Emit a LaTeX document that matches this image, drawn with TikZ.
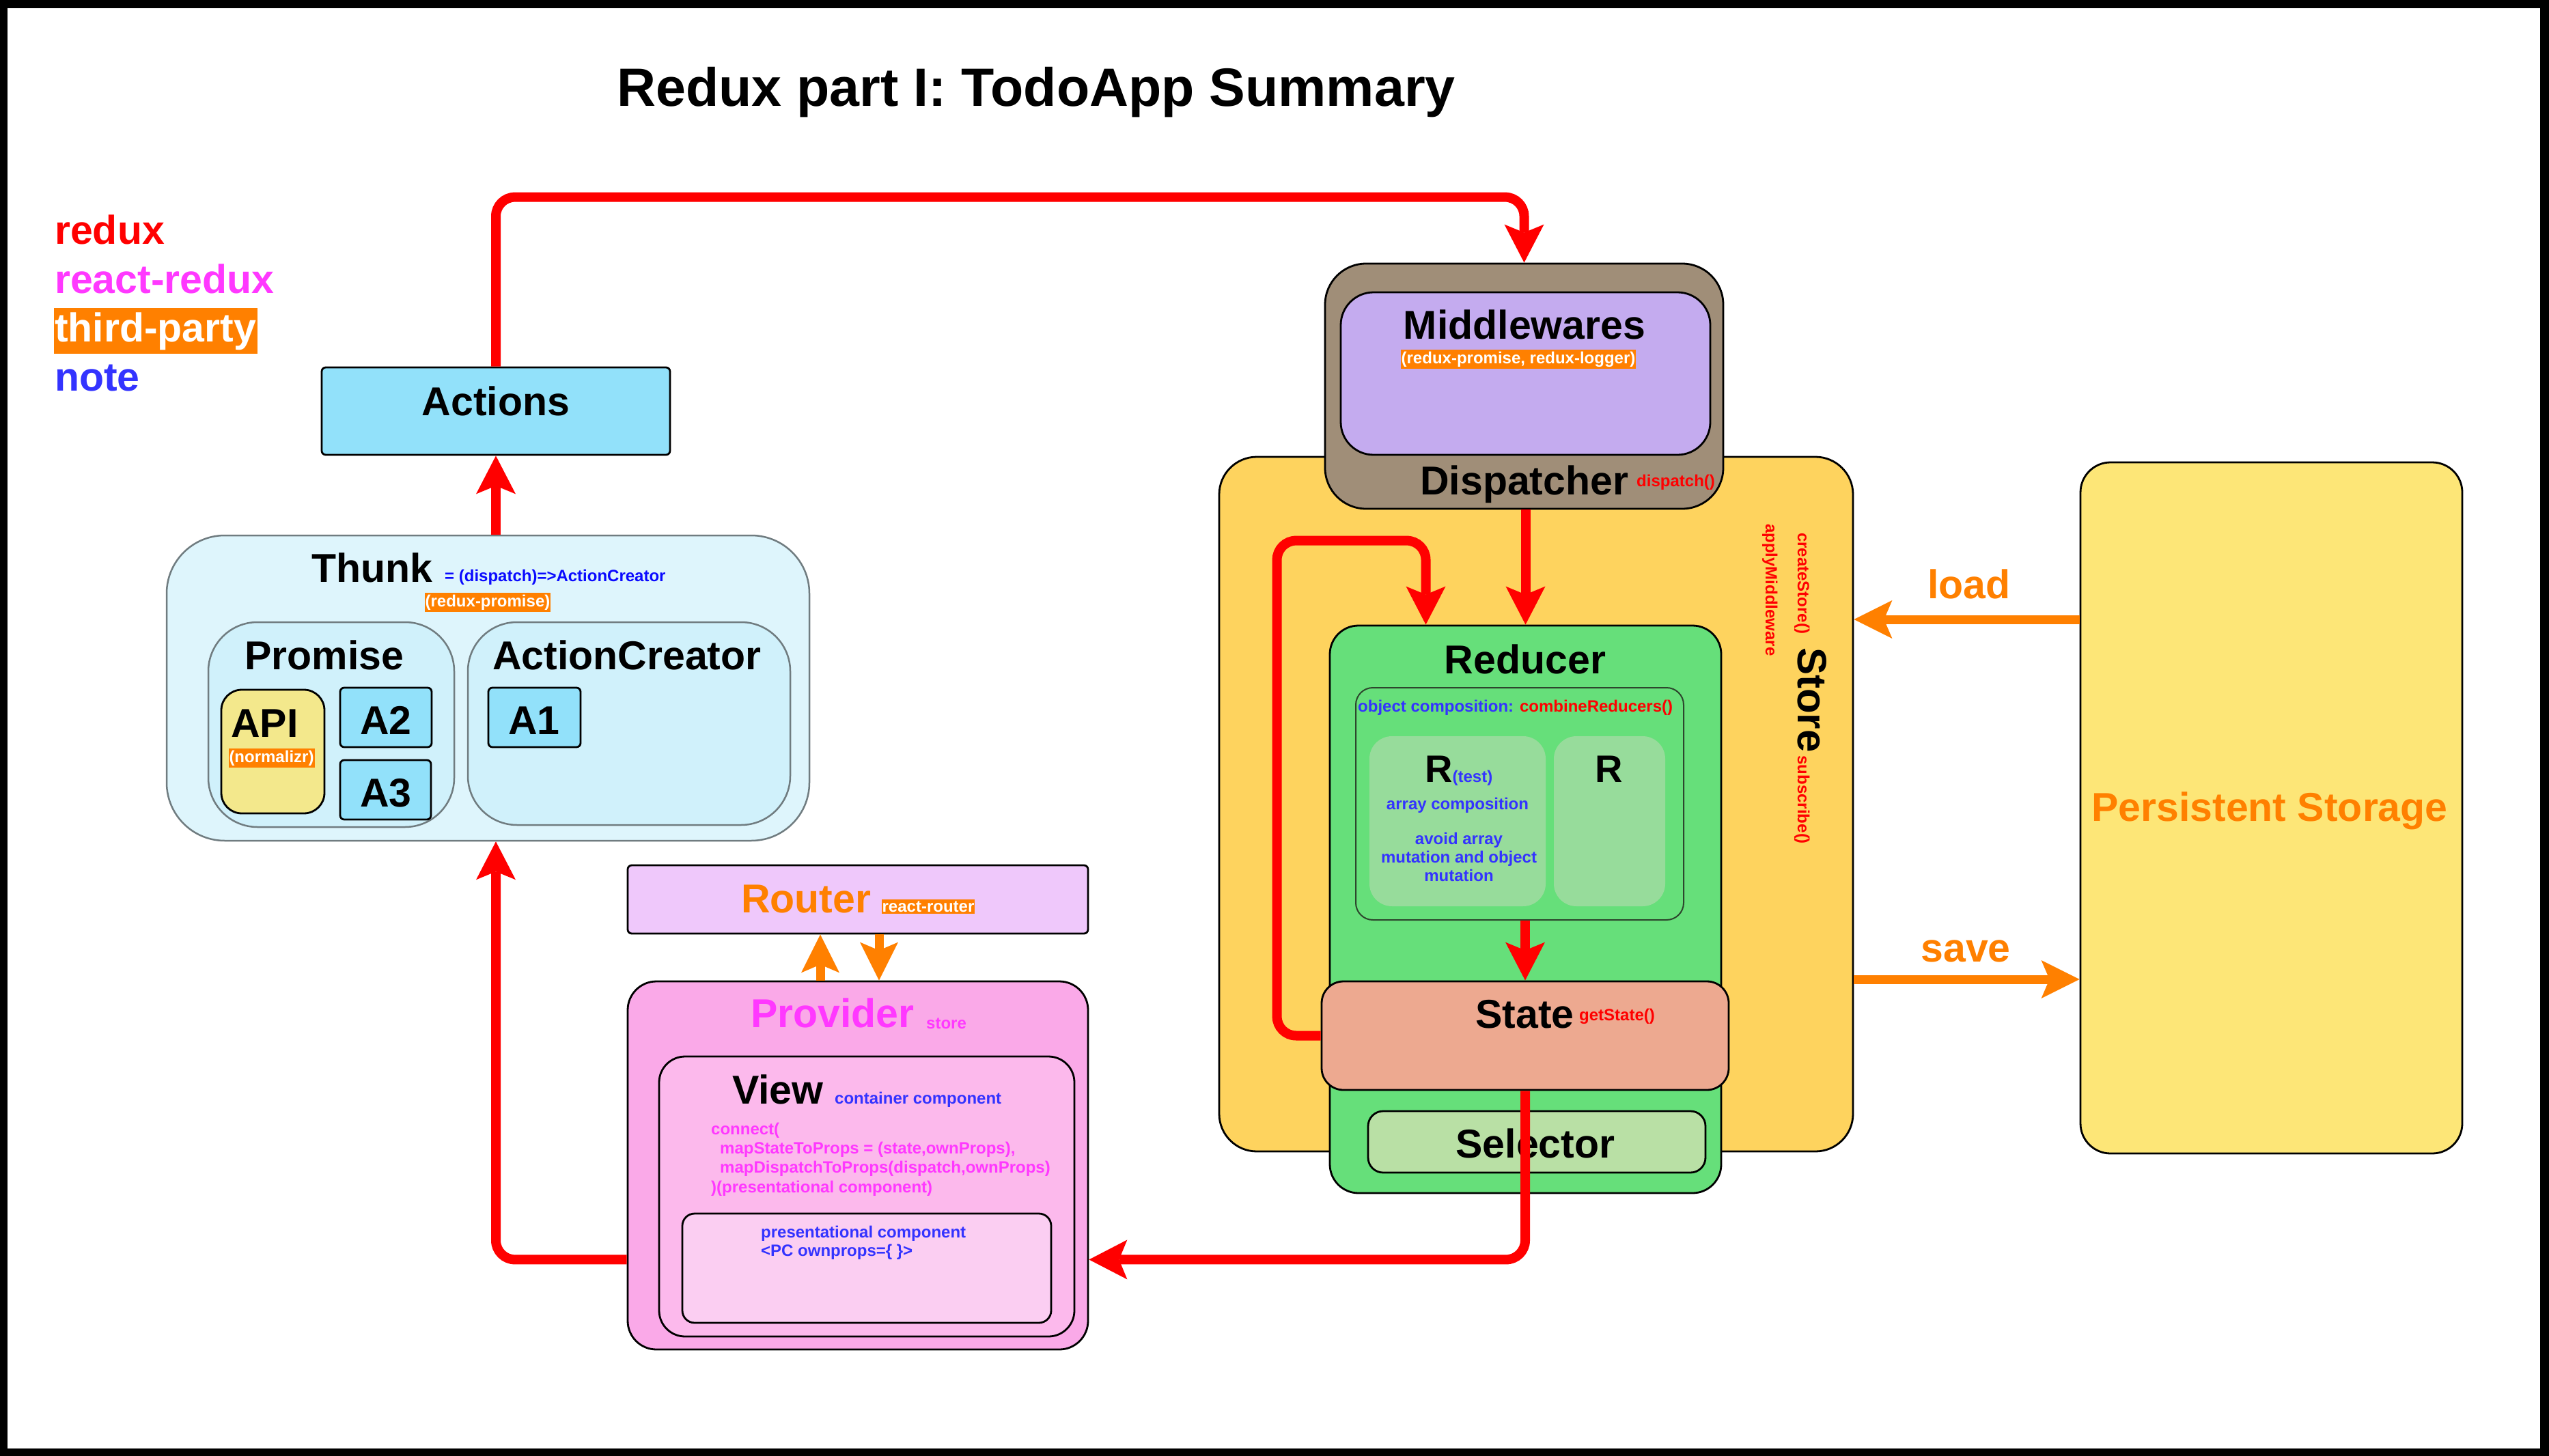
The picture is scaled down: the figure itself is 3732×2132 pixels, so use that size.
\documentclass[tikz,border=0pt]{standalone}
\usepackage{fontspec}
\setmainfont{Liberation Sans}
\usetikzlibrary{arrows.meta,calc}

\definecolor{cRed}{RGB}{255,0,0}
\definecolor{cMag}{RGB}{255,56,255}
\definecolor{cOr}{RGB}{255,128,0}
\definecolor{cNote}{RGB}{51,51,255}
\definecolor{cFormula}{RGB}{10,10,255}
\definecolor{cGrey}{RGB}{112,124,128}
\definecolor{actC}{RGB}{146,225,250}
\definecolor{thunkC}{RGB}{222,245,252}
\definecolor{promC}{RGB}{208,241,251}
\definecolor{apiC}{RGB}{243,232,140}
\definecolor{storeC}{RGB}{254,211,94}
\definecolor{dispC}{RGB}{160,142,120}
\definecolor{mwC}{RGB}{196,171,239}
\definecolor{redcC}{RGB}{102,223,122}
\definecolor{rC}{RGB}{151,220,155}
\definecolor{objLine}{RGB}{45,70,45}
\definecolor{stateC}{RGB}{237,169,144}
\definecolor{selC}{RGB}{185,224,165}
\definecolor{psC}{RGB}{253,230,119}
\definecolor{routC}{RGB}{239,200,251}
\definecolor{provC}{RGB}{250,169,232}
\definecolor{viewC}{RGB}{252,185,236}
\definecolor{presC}{RGB}{251,206,242}

\newcommand{\fsz}[1]{\fontsize{#1}{#1}\selectfont}

\tikzset{
  blk/.style={draw=black, line width=2.8pt, inner sep=0pt},
  gry/.style={draw=cGrey, line width=2.5pt, inner sep=0pt},
  lbl/.style={inner sep=0pt, font=\bfseries\fsz{59}},
  sml/.style={inner sep=0pt, font=\bfseries\fsz{24}},
  tp/.style={fill=cOr, text=white, inner xsep=1pt, inner ysep=2.5pt, font=\bfseries\fsz{24}},
  redflow/.style={draw=cRed, line width=14pt, rounded corners=28pt,
    -{Stealth[length=56pt,width=58pt,inset=12pt,line width=0pt]}},
  orflow/.style={draw=cOr, line width=13pt,
    -{Stealth[length=56pt,width=56pt,inset=12pt,line width=0pt]}},
}

\begin{document}
\begin{tikzpicture}[x=1pt,y=-1pt]
\useasboundingbox (0,0) rectangle (3732,2132);
% page frame
\fill[black] (0,0) rectangle (3732,2132);
\fill[white] (11,12) rectangle (3719,2121);

% ---------- action side ----------
\node[gry, fill=thunkC, rounded corners=85pt, minimum width=941pt, minimum height=447pt] (thunk) at (714.5,1007.5) {};
\node[gry, fill=promC, rounded corners=72pt, minimum width=360pt, minimum height=300pt] (promise) at (485,1061) {};
\node[gry, fill=promC, rounded corners=72pt, minimum width=472pt, minimum height=297pt] (creator) at (921,1059.5) {};
\node[blk, fill=apiC, rounded corners=30pt, minimum width=151pt, minimum height=181pt] (api) at (399.5,1100.5) {};
\node[blk, fill=actC, rounded corners=6pt, minimum width=134pt, minimum height=87pt] (atwo) at (565,1050.5) {};
\node[blk, fill=actC, rounded corners=6pt, minimum width=133pt, minimum height=87pt] (athree) at (564.5,1156.5) {};
\node[blk, fill=actC, rounded corners=6pt, minimum width=135pt, minimum height=87pt] (aone) at (782.5,1050.5) {};
\node[blk, fill=actC, rounded corners=6pt, minimum width=510pt, minimum height=128pt] (actions) at (726,602) {};

% ---------- store side ----------
\node[blk, fill=storeC, rounded corners=55pt, minimum width=928pt, minimum height=1017pt] (store) at (2249,1177.5) {};
\node[blk, fill=dispC, rounded corners=60pt, minimum width=583pt, minimum height=359pt] (mwout) at (2231.5,565.5) {};
\node[blk, fill=mwC, rounded corners=48pt, minimum width=541pt, minimum height=238pt] (mwin) at (2233.5,547) {};
\node[blk, fill=redcC, rounded corners=42pt, minimum width=573pt, minimum height=831pt] (reducer) at (2233.5,1331.5) {};
\node[draw=objLine, line width=2pt, inner sep=0pt, fill=redcC, rounded corners=25pt, minimum width=480pt, minimum height=340pt] (objbox) at (2225,1177) {};
\node[fill=rC, inner sep=0pt, rounded corners=33pt, minimum width=258pt, minimum height=249pt] (rtest) at (2134,1202.5) {};
\node[fill=rC, inner sep=0pt, rounded corners=33pt, minimum width=163pt, minimum height=249pt] (rother) at (2356.5,1202.5) {};
\node[blk, fill=stateC, rounded corners=32pt, minimum width=596pt, minimum height=159pt] (state) at (2233,1516.5) {};
\node[blk, fill=selC, rounded corners=22pt, minimum width=494pt, minimum height=90pt] (selector) at (2250,1672) {};
\node[blk, fill=psC, rounded corners=44pt, minimum width=559pt, minimum height=1012pt] (pstore) at (3325.5,1183) {};

% ---------- view side ----------
\node[blk, fill=routC, rounded corners=6pt, minimum width=674pt, minimum height=100pt] (router) at (1256,1317) {};
\node[blk, fill=provC, rounded corners=42pt, minimum width=674pt, minimum height=539pt] (provider) at (1256,1706.5) {};
\node[blk, fill=viewC, rounded corners=38pt, minimum width=608pt, minimum height=410pt] (view) at (1269,1752) {};
\node[blk, fill=presC, rounded corners=18pt, minimum width=540pt, minimum height=160pt] (pres) at (1269,1857) {};

% ---------- texts ----------
\node[anchor=base, inner sep=0pt, font=\bfseries\fsz{79}] (title) at (1517,156) {Redux part I: TodoApp Summary};

\node[lbl, anchor=base west, text=cRed] (lgRedux) at (80,358) {redux};
\node[lbl, anchor=base west, text=cMag] (lgReactRedux) at (80,429) {react-redux};
\node[lbl, anchor=base west, fill=cOr, text=white, inner xsep=1.5pt, inner ysep=6pt] (lgThird) at (78.5,500) {third-party};
\node[lbl, anchor=base west, text=cNote] (lgNote) at (80,572) {note};

\node[lbl, anchor=base] (actionsT) at (726,608) {Actions};
\node[lbl, anchor=base west] (thunkT) at (456,852) {Thunk};
\node[sml, anchor=base west, text=cFormula] (thunkF) at (651,851) {= (dispatch)=>ActionCreator};
\node[tp] (thunkTP) at (714,882) {(redux-promise)};
\node[lbl, anchor=base west] (promiseT) at (358,980) {Promise};
\node[lbl, anchor=base west] (creatorT) at (721,980) {ActionCreator};
\node[lbl, anchor=base west] (apiT) at (338,1079) {API};
\node[tp] (apiTP) at (397.5,1110) {(normalizr)};
\node[lbl, anchor=base] (atwoT) at (565,1075) {A2};
\node[lbl, anchor=base] (athreeT) at (565,1181) {A3};
\node[lbl, anchor=base] (aoneT) at (782,1075) {A1};

\node[lbl, anchor=base] (mwT) at (2232,496) {Middlewares};
\node[tp] (mwTP) at (2223,526) {(redux-promise, redux-logger)};
\node[lbl, anchor=base west] (dispT) at (2079,724) {Dispatcher};
\node[sml, anchor=base west, text=cRed] (dispF) at (2396,712) {dispatch()};

\node[rotate=-90, anchor=base west, inner sep=0pt, font=\bfseries] (storeT) at (2632,780)
  {{\color{cRed}\fsz{24}createStore()}\hspace{20pt}{\fsz{60}Store}\hspace{5pt}{\color{cRed}\fsz{24}subscribe()}};
\node[sml, rotate=-90, anchor=base west, text=cRed] (applyT) at (2585,767) {applyMiddleware};

\node[lbl, anchor=base] (reducerT) at (2233,986) {Reducer};
\node[sml, anchor=base west] (objT) at (1988,1042) {\textcolor{cNote}{object composition:} \textcolor{cRed}{combineReducers()}};
\node[anchor=base west, inner sep=0pt, font=\bfseries] (rtestT) at (2086,1145) {\fsz{56}R\fsz{24}\textcolor{cNote}{(test)}};
\node[sml, anchor=base, text=cNote] (arrT) at (2134,1185) {array composition};
\node[sml, anchor=base, text=cNote] (avoidA) at (2136,1236) {avoid array};
\node[sml, anchor=base, text=cNote] (avoidB) at (2136,1263) {mutation and object};
\node[sml, anchor=base, text=cNote] (avoidC) at (2136,1290) {mutation};
\node[anchor=base, inner sep=0pt, font=\bfseries\fsz{56}] (rotherT) at (2356,1145) {R};
\node[lbl, anchor=base west] (stateT) at (2160,1505) {State};
\node[sml, anchor=base west, text=cRed] (stateF) at (2312,1494) {getState()};
\node[lbl, anchor=base] (selT) at (2248,1695) {Selector};

\node[lbl, anchor=base, text=cOr] (psT) at (3323,1202) {Persistent Storage};
\node[lbl, anchor=base, text=cOr] (loadT) at (2883,876) {load};
\node[lbl, anchor=base, text=cOr] (saveT) at (2878,1408) {save};

\node[lbl, anchor=base west, text=cOr] (routerT) at (1085,1336) {Router};
\node[tp] (routerTP) at (1359,1327.5) {react-router};
\node[lbl, anchor=base west, text=cMag] (provT) at (1099,1504) {Provider};
\node[sml, anchor=base west, text=cMag] (provF) at (1356,1506) {store};
\node[lbl, anchor=base west] (viewT) at (1072,1616) {View};
\node[sml, anchor=base west, text=cNote] (viewF) at (1222,1616) {container component};
\node[sml, anchor=base west, text=cMag] (conA) at (1041,1661) {connect(};
\node[sml, anchor=base west, text=cMag] (conB) at (1054,1689) {mapStateToProps = (state,ownProps),};
\node[sml, anchor=base west, text=cMag] (conC) at (1054,1717) {mapDispatchToProps(dispatch,ownProps)};
\node[sml, anchor=base west, text=cMag] (conD) at (1041,1746) {)(presentational component)};
\node[sml, anchor=base west, text=cNote] (presA) at (1114,1812) {presentational component};
\node[sml, anchor=base west, text=cNote] (presB) at (1114,1839) {<PC ownprops=\{ \}>};

% ---------- data flow ----------
\draw[redflow] (actions.north) -- ++(0,-248) -| (mwout.north);
\draw[redflow] (thunk.north -| actions.south) -- (actions.south);
\draw[redflow] (mwout.south -| reducer.north) -- (reducer.north);
\coordinate (loopin) at ($(reducer.north)+(-146,0)$);
\draw[redflow] (state.west) -- ++(-64,0) |- ($(loopin)+(0,-123)$) -- (loopin);
\draw[redflow] (objbox.south -| state.north) -- (state.north);
\draw[redflow] (state.south) |- ($(provider.south east)+(0,-133)$);
\draw[redflow] ($(provider.south west)+(0,-133)$) -| (actions.south |- thunk.south);

\draw[orflow] ($(provider.north)+(-55,0)$) -- ($(router.south)+(-55,0)$);
\draw[orflow] ($(router.south)+(31,0)$) -- ($(provider.north)+(31,0)$);
\coordinate (loadA) at ($(pstore.west)+(0,-276)$);
\draw[orflow] (loadA) -- (loadA -| store.east);
\coordinate (saveA) at ($(pstore.west)+(0,251)$);
\draw[orflow] (saveA -| store.east) -- (saveA);
\end{tikzpicture}
\end{document}
